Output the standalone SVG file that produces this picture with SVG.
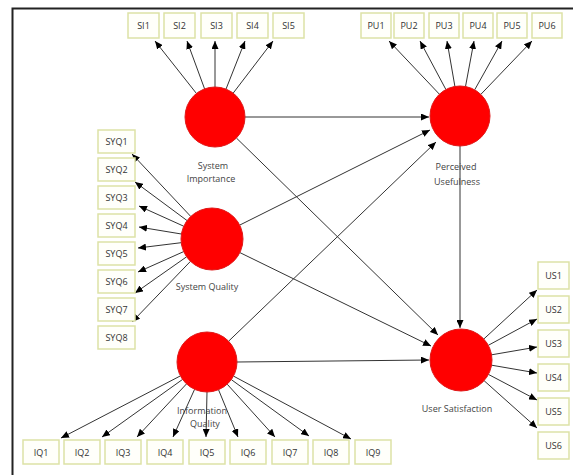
<svg xmlns="http://www.w3.org/2000/svg" width="573" height="475" viewBox="0 0 573 475">
<style>
.box{fill:#fffffa;stroke:#dde2a6;stroke-width:1.5}
.bt{font-family:"Open Sans","Noto Sans",sans-serif;font-size:9px;fill:#333;text-anchor:middle}
.lbl{font-family:"Open Sans","Noto Sans",sans-serif;font-size:9px;fill:#444;text-anchor:middle}
.lv{fill:#ff0000;stroke:#e01818;stroke-width:1}
.c line{stroke:#333;stroke-width:1;marker-end:url(#ah)}
</style>
<defs>
<marker id="ah" markerUnits="userSpaceOnUse" markerWidth="8" markerHeight="7" refX="8" refY="3.5" orient="auto">
<path d="M0,0 L8,3.5 L0,7 z" fill="#000"/>
</marker>
</defs>
<rect x="0" y="0" width="573" height="475" fill="#fff"/>
<path d="M12.5,475 V8.5 H573" fill="none" stroke="#222" stroke-width="2"/>
<g class="c" id="connectors">
<line x1="196.4" y1="93.4" x2="155" y2="41"/>
<line x1="204.6" y1="88.9" x2="187" y2="41"/>
<line x1="215" y1="87" x2="215" y2="41"/>
<line x1="226" y1="89.1" x2="245" y2="41"/>
<line x1="233.2" y1="93.1" x2="273" y2="41"/>
<line x1="439.4" y1="94.2" x2="389" y2="41"/>
<line x1="445.9" y1="89.5" x2="420" y2="41"/>
<line x1="454.9" y1="86.4" x2="447" y2="41"/>
<line x1="465.5" y1="86.5" x2="474" y2="41"/>
<line x1="474.7" y1="89.8" x2="502" y2="41"/>
<line x1="480.8" y1="94.4" x2="532" y2="41"/>
<line x1="190.7" y1="216.4" x2="132" y2="154"/>
<line x1="187.1" y1="220.6" x2="135" y2="182"/>
<line x1="183.7" y1="226.2" x2="139" y2="206"/>
<line x1="181.4" y1="234" x2="139" y2="227"/>
<line x1="181.2" y1="242.7" x2="138" y2="248"/>
<line x1="183.7" y1="251.6" x2="138" y2="272"/>
<line x1="186.6" y1="256.8" x2="135" y2="293"/>
<line x1="190.5" y1="261.3" x2="132" y2="322"/>
<line x1="180.4" y1="375.9" x2="61" y2="438"/>
<line x1="182.6" y1="379.4" x2="102" y2="437"/>
<line x1="186.5" y1="383.9" x2="137" y2="437"/>
<line x1="194.6" y1="389.3" x2="173" y2="437"/>
<line x1="207" y1="392" x2="206" y2="437"/>
<line x1="218.5" y1="389.7" x2="238" y2="437"/>
<line x1="227.2" y1="384.2" x2="275" y2="437"/>
<line x1="231.3" y1="379.6" x2="309" y2="436"/>
<line x1="233.5" y1="376.1" x2="351" y2="439"/>
<line x1="483.8" y1="339" x2="537" y2="290"/>
<line x1="488.3" y1="345.3" x2="537" y2="319"/>
<line x1="491.6" y1="354.8" x2="537" y2="347"/>
<line x1="491.6" y1="365.2" x2="537" y2="373"/>
<line x1="488.4" y1="374.4" x2="537" y2="400"/>
<line x1="484.1" y1="380.7" x2="537" y2="428"/>
<line x1="245" y1="117" x2="429" y2="117"/>
<line x1="239.7" y1="225.1" x2="430" y2="130"/>
<line x1="228.6" y1="341.2" x2="436" y2="142"/>
<line x1="236.4" y1="138" x2="438" y2="335"/>
<line x1="239.9" y1="252.6" x2="431" y2="346"/>
<line x1="237" y1="362" x2="429" y2="360"/>
<line x1="460" y1="146" x2="460" y2="328"/>
</g>
<g id="SI"><circle class="lv" cx="215" cy="117" r="30"/><text class="lbl" x="213" y="169">System</text><text class="lbl" x="211" y="182">Importance</text></g>
<g id="PU"><circle class="lv" cx="460" cy="116" r="30"/><text class="lbl" x="456" y="170">Perceived</text><text class="lbl" x="457" y="185">Usefulness</text></g>
<g id="SYQ"><circle class="lv" cx="212" cy="239" r="31"/><text class="lbl" x="207" y="290">System Quality</text></g>
<g id="IQ"><circle class="lv" cx="207" cy="362" r="30"/><text class="lbl" x="202" y="414">Information</text><text class="lbl" x="205" y="427">Quality</text></g>
<g id="US"><circle class="lv" cx="461" cy="360" r="31"/><text class="lbl" x="457" y="412">User Satisfaction</text></g>
<g id="SI1"><rect class="box" x="128" y="13" width="31" height="25"/><text class="bt" x="143.5" y="29">SI1</text></g>
<g id="SI2"><rect class="box" x="164" y="13" width="31" height="25"/><text class="bt" x="179.5" y="29">SI2</text></g>
<g id="SI3"><rect class="box" x="201" y="13" width="31" height="25"/><text class="bt" x="216.5" y="29">SI3</text></g>
<g id="SI4"><rect class="box" x="237" y="13" width="31" height="25"/><text class="bt" x="252.5" y="29">SI4</text></g>
<g id="SI5"><rect class="box" x="273" y="13" width="31" height="25"/><text class="bt" x="288.5" y="29">SI5</text></g>
<g id="PU1"><rect class="box" x="361" y="13" width="30" height="25"/><text class="bt" x="376" y="29">PU1</text></g>
<g id="PU2"><rect class="box" x="394" y="13" width="30" height="25"/><text class="bt" x="409" y="29">PU2</text></g>
<g id="PU3"><rect class="box" x="429" y="13" width="30" height="25"/><text class="bt" x="444" y="29">PU3</text></g>
<g id="PU4"><rect class="box" x="463" y="13" width="30" height="25"/><text class="bt" x="478" y="29">PU4</text></g>
<g id="PU5"><rect class="box" x="497" y="13" width="30" height="25"/><text class="bt" x="512" y="29">PU5</text></g>
<g id="PU6"><rect class="box" x="532" y="13" width="30" height="25"/><text class="bt" x="547" y="29">PU6</text></g>
<g id="SYQ1"><rect class="box" x="98" y="130" width="37" height="23"/><text class="bt" x="116.5" y="145">SYQ1</text></g>
<g id="SYQ2"><rect class="box" x="98" y="158" width="37" height="23"/><text class="bt" x="116.5" y="173">SYQ2</text></g>
<g id="SYQ3"><rect class="box" x="98" y="186" width="37" height="23"/><text class="bt" x="116.5" y="201">SYQ3</text></g>
<g id="SYQ4"><rect class="box" x="98" y="214" width="37" height="23"/><text class="bt" x="116.5" y="229">SYQ4</text></g>
<g id="SYQ5"><rect class="box" x="98" y="242" width="37" height="23"/><text class="bt" x="116.5" y="257">SYQ5</text></g>
<g id="SYQ6"><rect class="box" x="98" y="270" width="37" height="23"/><text class="bt" x="116.5" y="285">SYQ6</text></g>
<g id="SYQ7"><rect class="box" x="98" y="298" width="37" height="23"/><text class="bt" x="116.5" y="313">SYQ7</text></g>
<g id="SYQ8"><rect class="box" x="98" y="326" width="37" height="23"/><text class="bt" x="116.5" y="341">SYQ8</text></g>
<g id="IQ1"><rect class="box" x="23" y="440" width="36" height="24"/><text class="bt" x="41" y="455.5">IQ1</text></g>
<g id="IQ2"><rect class="box" x="64" y="440" width="36" height="24"/><text class="bt" x="82" y="455.5">IQ2</text></g>
<g id="IQ3"><rect class="box" x="105" y="440" width="36" height="24"/><text class="bt" x="123" y="455.5">IQ3</text></g>
<g id="IQ4"><rect class="box" x="147" y="440" width="36" height="24"/><text class="bt" x="165" y="455.5">IQ4</text></g>
<g id="IQ5"><rect class="box" x="189" y="440" width="36" height="24"/><text class="bt" x="207" y="455.5">IQ5</text></g>
<g id="IQ6"><rect class="box" x="230" y="440" width="36" height="24"/><text class="bt" x="248" y="455.5">IQ6</text></g>
<g id="IQ7"><rect class="box" x="272" y="440" width="36" height="24"/><text class="bt" x="290" y="455.5">IQ7</text></g>
<g id="IQ8"><rect class="box" x="313" y="440" width="36" height="24"/><text class="bt" x="331" y="455.5">IQ8</text></g>
<g id="IQ9"><rect class="box" x="355" y="440" width="36" height="24"/><text class="bt" x="373" y="455.5">IQ9</text></g>
<g id="US1"><rect class="box" x="538" y="262" width="31" height="27"/><text class="bt" x="553.5" y="279">US1</text></g>
<g id="US2"><rect class="box" x="538" y="296" width="31" height="27"/><text class="bt" x="553.5" y="313">US2</text></g>
<g id="US3"><rect class="box" x="538" y="330" width="31" height="27"/><text class="bt" x="553.5" y="347">US3</text></g>
<g id="US4"><rect class="box" x="538" y="364" width="31" height="27"/><text class="bt" x="553.5" y="381">US4</text></g>
<g id="US5"><rect class="box" x="538" y="398" width="31" height="27"/><text class="bt" x="553.5" y="415">US5</text></g>
<g id="US6"><rect class="box" x="538" y="432" width="31" height="27"/><text class="bt" x="553.5" y="449">US6</text></g>
</svg>
